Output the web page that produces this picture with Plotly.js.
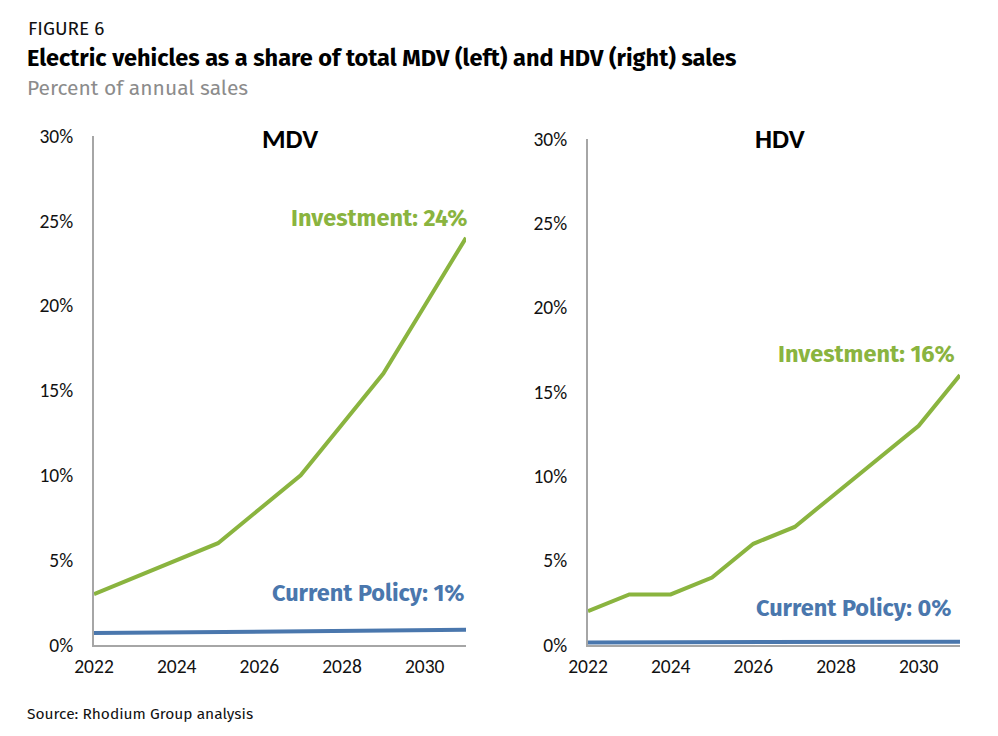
<!DOCTYPE html>
<html>
<head>
<meta charset="utf-8">
<script src="https://cdn.plot.ly/plotly-3.0.1.min.js"></script>
<style>
  html, body { margin: 0; padding: 0; background: #fff; }
  #chart { width: 998px; height: 736px; }
</style>
</head>
<body>
<div id="chart"></div>
<script>
// ---- Data ----
const years = [2022, 2023, 2024, 2025, 2026, 2027, 2028, 2029, 2030, 2031];
const mdvInvestment = [3, 4, 5, 6, 8, 10, 13, 16, 20, 24];
const mdvCurrentPolicy = [0.7, 0.72, 0.74, 0.76, 0.78, 0.8, 0.82, 0.85, 0.87, 0.9];
const hdvInvestment = [2, 3, 3, 4, 6, 7, 9, 11, 13, 16];
const hdvCurrentPolicy = [0.15, 0.16, 0.16, 0.17, 0.17, 0.18, 0.18, 0.19, 0.19, 0.2];
const xTickVals = [2022, 2024, 2026, 2028, 2030];
const yTickVals = [0, 5, 10, 15, 20, 25, 30];

const GREEN = '#8AB43F';
const BLUE = '#4A77AD';
const AXIS = '#A6A6A6';
const TICKFONT = {family: 'Carlito, Lato, "Liberation Sans", sans-serif', size: 19.5, color: '#111'};
const LABELFONT = 'Fira Sans, "Noto Sans", "Open Sans", sans-serif';

const W = 998, H = 736;
const px = v => v / W;
const py = v => 1 - v / H;

const traces = [
  {x: years, y: mdvInvestment, xaxis: 'x', yaxis: 'y', mode: 'lines', line: {color: GREEN, width: 4}, name: 'Investment'},
  {x: years, y: mdvCurrentPolicy, xaxis: 'x', yaxis: 'y', mode: 'lines', line: {color: BLUE, width: 4}, name: 'Current Policy'},
  {x: years, y: hdvInvestment, xaxis: 'x2', yaxis: 'y2', mode: 'lines', line: {color: GREEN, width: 4}, name: 'Investment'},
  {x: years, y: hdvCurrentPolicy, xaxis: 'x2', yaxis: 'y2', mode: 'lines', line: {color: BLUE, width: 4}, name: 'Current Policy'}
];

function xAxis(domain, anchor) {
  return {
    domain: domain, anchor: anchor, range: [2022, 2031],
    tickvals: xTickVals, ticktext: xTickVals.map(String),
    showgrid: false, zeroline: false, showline: true, linecolor: AXIS, linewidth: 2,
    ticks: '', tickfont: TICKFONT, ticklabelstandoff: 3, fixedrange: true
  };
}
function yAxis(domain, anchor) {
  return {
    domain: domain, anchor: anchor, range: [0, 30],
    tickvals: yTickVals, ticktext: yTickVals.map(v => v + '%'),
    showgrid: false, zeroline: false, showline: true, linecolor: AXIS, linewidth: 2,
    ticks: '', tickfont: TICKFONT, ticklabelstandoff: 15, fixedrange: true
  };
}

const layout = {
  width: W, height: H,
  margin: {l: 0, r: 0, t: 0, b: 0},
  paper_bgcolor: '#fff', plot_bgcolor: '#fff',
  showlegend: false,
  xaxis: xAxis([px(94), px(466)], 'y'),
  yaxis: yAxis([py(645), py(136)], 'x'),
  xaxis2: xAxis([px(588), px(960)], 'y2'),
  yaxis2: yAxis([py(645), py(139)], 'x2'),
  annotations: [
    {xref: 'paper', yref: 'paper', x: px(26), y: py(28), xanchor: 'left', yanchor: 'middle', showarrow: false,
     text: 'FIGURE 6', font: {family: LABELFONT, size: 19, color: '#111'}},
    {xref: 'paper', yref: 'paper', x: px(25), y: py(58), xanchor: 'left', yanchor: 'middle', showarrow: false,
     text: '<b>Electric vehicles as a share of total MDV (left) and HDV (right) sales</b>', font: {family: LABELFONT, size: 23.5, color: '#000'}},
    {xref: 'paper', yref: 'paper', x: px(25), y: py(88), xanchor: 'left', yanchor: 'middle', showarrow: false,
     text: 'Percent of annual sales', font: {family: LABELFONT, size: 21, color: '#8C8C8C'}},
    {xref: 'paper', yref: 'paper', x: px(25), y: py(714), xanchor: 'left', yanchor: 'middle', showarrow: false,
     text: 'Source: Rhodium Group analysis', font: {family: LABELFONT, size: 15.5, color: '#111'}},
    {xref: 'paper', yref: 'paper', x: px(290), y: py(138), xanchor: 'center', yanchor: 'middle', showarrow: false,
     text: '<b>MDV</b>', font: {family: 'Carlito, Lato, "Liberation Sans", sans-serif', size: 27, color: '#000'}},
    {xref: 'paper', yref: 'paper', x: px(780), y: py(138), xanchor: 'center', yanchor: 'middle', showarrow: false,
     text: '<b>HDV</b>', font: {family: 'Carlito, Lato, "Liberation Sans", sans-serif', size: 27, color: '#000'}},
    {xref: 'paper', yref: 'paper', x: px(469), y: py(218), xanchor: 'right', yanchor: 'middle', showarrow: false,
     text: '<b>Investment: 24%</b>', font: {family: LABELFONT, size: 23.5, color: GREEN}},
    {xref: 'paper', yref: 'paper', x: px(467), y: py(593), xanchor: 'right', yanchor: 'middle', showarrow: false,
     text: '<b>Current Policy: 1%</b>', font: {family: LABELFONT, size: 23.5, color: BLUE}},
    {xref: 'paper', yref: 'paper', x: px(957), y: py(354), xanchor: 'right', yanchor: 'middle', showarrow: false,
     text: '<b>Investment: 16%</b>', font: {family: LABELFONT, size: 23.5, color: GREEN}},
    {xref: 'paper', yref: 'paper', x: px(953), y: py(608), xanchor: 'right', yanchor: 'middle', showarrow: false,
     text: '<b>Current Policy: 0%</b>', font: {family: LABELFONT, size: 23.5, color: BLUE}}
  ]
};

Plotly.newPlot('chart', traces, layout, {displayModeBar: false, staticPlot: true});
</script>
</body>
</html>
